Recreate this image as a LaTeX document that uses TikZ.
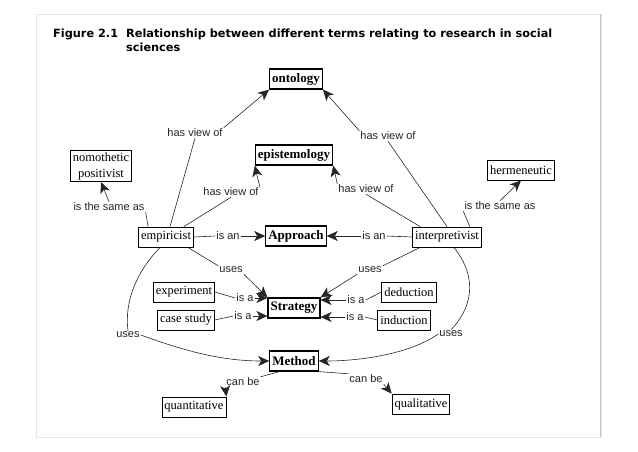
\documentclass[tikz,border=0pt]{standalone}
\usepackage{fontspec}
\setmainfont{Liberation Serif}
\newfontfamily\labfont{Liberation Sans}
\newfontfamily\titfont{DejaVu Sans}
\usetikzlibrary{arrows.meta}
\begin{document}
\begin{tikzpicture}[x=1pt,y=-1pt,
  concept/.style={draw=black,line width=0.8pt,fill=white,inner xsep=2.5pt,inner ysep=2pt,minimum height=20pt,font=\fontsize{12.5}{14}\selectfont},
  bconcept/.style={concept,line width=1.2pt,font=\fontsize{13}{14}\selectfont\bfseries},
  lab/.style={inner sep=1pt,fill=white,text=black!85,font=\labfont\fontsize{11}{12}\selectfont},
  link/.style={draw=black!85,line width=0.6pt},
  arr/.style={link,-{Stealth[length=11pt,width=10pt,inset=3pt]}},
  ttl/.style={anchor=base west,inner sep=0,font=\titfont\bfseries\fontsize{11.3}{13}\selectfont}
  ]
\useasboundingbox (0,0) rectangle (638,451);
\draw[black!10,line width=0.6pt] (36,14) rectangle (601,437);
\draw[black!22,line width=0.6pt] (600.5,14) -- (600.5,437);
% title
\node[ttl] (tfig) at (53,37) {Figure 2.1};
\node[ttl] (t1) at (126,37) {Relationship between different terms relating to research in social};
\node[ttl] (t2) at (126,51) {sciences};
% concepts
\node[bconcept] (onto) at (296,79) {ontology};
\node[bconcept] (epi) at (294,155) {epistemology};
\node[concept,align=center,font=\fontsize{12.5}{16}\selectfont] (nomo) at (101,166) {nomothetic\\positivist};
\node[concept] (herm) at (521,170) {hermeneutic};
\node[concept] (emp) at (166,237) {empiricist};
\node[bconcept] (appr) at (296,236) {Approach};
\node[concept] (intp) at (447,237) {interpretivist};
\node[concept] (expe) at (184,292) {experiment};
\node[concept] (case) at (186,320) {case study};
\node[bconcept] (strat) at (294,308) {Strategy};
\node[concept] (dedu) at (409,292) {deduction};
\node[concept] (indu) at (404,320) {induction};
\node[bconcept] (meth) at (294,361) {Method};
\node[concept] (quan) at (194,407) {quantitative};
\node[concept] (qual) at (421,404) {qualitative};
% labels
\node[lab] (l1) at (195,133) {has view of};
\node[lab] (l2) at (388,136) {has view of};
\node[lab] (l3) at (231,192) {has view of};
\node[lab] (l4) at (366,189) {has view of};
\node[lab] (l5) at (109,207) {is the same as};
\node[lab] (l6) at (500,206) {is the same as};
\node[lab] (l7) at (228,236) {is an};
\node[lab] (l8) at (374,236) {is an};
\node[lab] (l9) at (231,270) {uses};
\node[lab] (l10) at (370,270) {uses};
\node[lab] (l11) at (245,298) {is a};
\node[lab] (l12) at (243,316) {is a};
\node[lab] (l13) at (356,300) {is a};
\node[lab] (l14) at (355,317) {is a};
\node[lab] (l15) at (128,335) {uses};
\node[lab] (l16) at (451,334) {uses};
\node[lab] (l17) at (243,382) {can be};
\node[lab] (l18) at (366,379) {can be};
% connectors
\draw[link] (emp.north) ++(4,0) coordinate (e1) -- (l1.south);
\draw[arr] (l1.north east) -- (onto.south west);
\draw[link] (intp.north) -- (l2.south);
\draw[arr] (l2.north west) -- (onto.south east);
\draw[link] (emp.north east) ++(-10,0) coordinate (e2) -- (l3.south);
\draw[arr] (l3.north east) -- (epi.south west);
\draw[link] (intp.north west) ++(8,0) coordinate (i2) -- (l4.south);
\draw[arr] (l4.north west) -- (epi.south east);
\draw[link] (emp.north west) ++(10,0) coordinate (e3) -- (l5.south east);
\draw[arr] (l5.north) -- (nomo.south);
\draw[link] (intp.north east) ++(-12,0) coordinate (i3) -- (l6.south west);
\draw[arr] (l6.north) -- (herm.south);
\draw[link] (emp.east) -- (l7.west);
\draw[arr] (l7.east) -- (appr.west);
\draw[link] (intp.west) -- (l8.east);
\draw[arr] (l8.west) -- (appr.east);
\draw[link] (emp.south east) ++(-6,0) coordinate (e4) -- (l9.north west);
\draw[arr] (l9.south east) -- (strat.north west);
\draw[link] (intp.south west) ++(8,0) coordinate (i4) -- (l10.north east);
\draw[arr] (l10.south west) -- (strat.north east);
\draw[link] (expe.east) -- (l11.west);
\draw[arr] (l11.east) -- (strat.west |- l11.east);
\draw[link] (case.east) -- (l12.west);
\draw[arr] (l12.east) -- (strat.west |- l12.east);
\draw[link] (dedu.west) -- (l13.east);
\draw[arr] (l13.west) -- (strat.east |- l13.west);
\draw[link] (indu.west) -- (l14.east);
\draw[arr] (l14.west) -- (strat.east |- l14.west);
\draw[link] (emp.south west) ++(22,0) coordinate (e5) .. controls (138,270) and (124,300) .. (l15.north);
\draw[arr] (l15.east) .. controls (195,355) and (230,361) .. (meth.west);
\draw[link] (intp.south east) ++(-28,0) coordinate (i5) .. controls (480,280) and (470,310) .. (l16.north);
\draw[arr] (l16.west) .. controls (410,354) and (360,361) .. (meth.east);
\draw[link] (meth.south west) ++(10,0) coordinate (m1) -- (l17.north east);
\draw[arr] (l17.south west) -- (quan.north east);
\draw[link] (meth.south east) -- (l18.north west);
\draw[arr] (l18.south east) -- (qual.north west);
\end{tikzpicture}
\end{document}
